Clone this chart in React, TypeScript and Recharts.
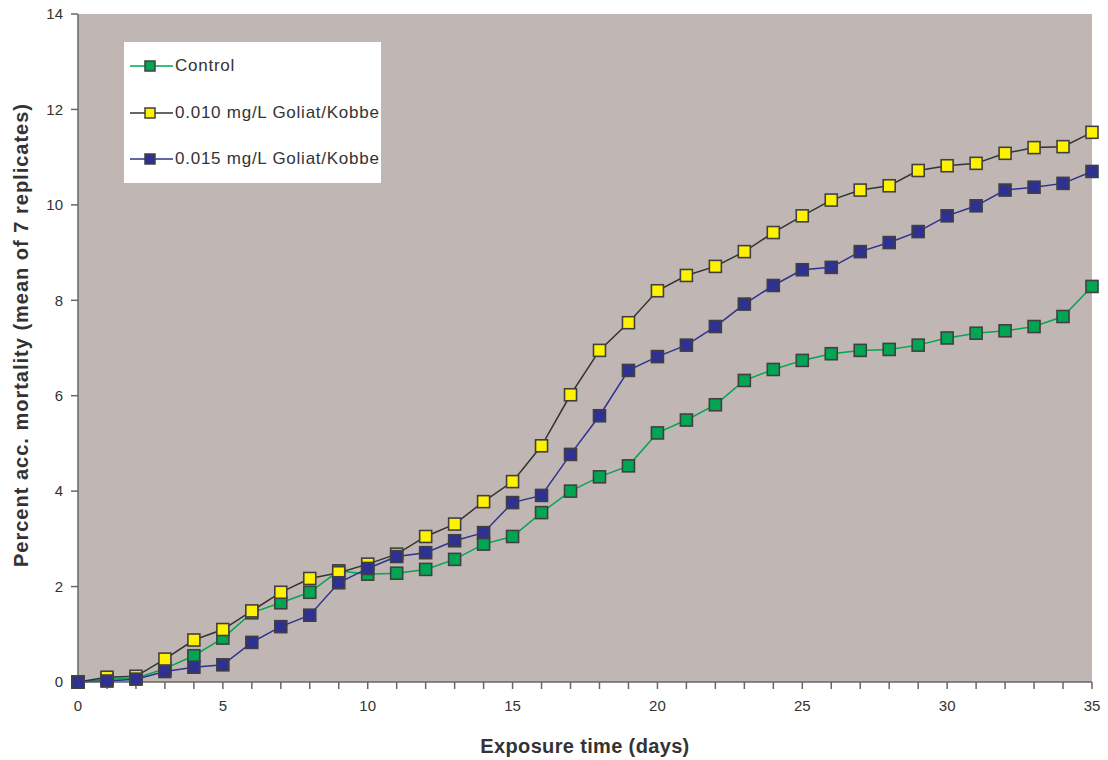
import React from 'react';
import { LineChart, Line, XAxis, YAxis, CartesianGrid, Legend } from 'recharts';

const days = Array.from({ length: 36 }, (_, i) => i);
const controlValues = [0, 0.06, 0.08, 0.28, 0.55, 0.92, 1.45, 1.66, 1.88, 2.33, 2.26, 2.28, 2.36, 2.57, 2.89, 3.05, 3.55, 4.0, 4.3, 4.53, 5.22, 5.49, 5.81, 6.32, 6.55, 6.74, 6.88, 6.95, 6.97, 7.06, 7.21, 7.31, 7.36, 7.45, 7.66, 8.29];
const low010Values = [0, 0.1, 0.12, 0.48, 0.88, 1.1, 1.49, 1.88, 2.17, 2.29, 2.47, 2.68, 3.05, 3.31, 3.78, 4.2, 4.95, 6.02, 6.95, 7.53, 8.2, 8.52, 8.71, 9.02, 9.42, 9.77, 10.1, 10.31, 10.4, 10.72, 10.82, 10.87, 11.08, 11.2, 11.22, 11.52];
const high015Values = [0, 0.02, 0.06, 0.22, 0.31, 0.36, 0.83, 1.16, 1.4, 2.08, 2.38, 2.63, 2.71, 2.96, 3.13, 3.76, 3.91, 4.77, 5.58, 6.53, 6.82, 7.06, 7.45, 7.92, 8.31, 8.64, 8.69, 9.02, 9.21, 9.44, 9.77, 9.98, 10.31, 10.37, 10.45, 10.7];
const yTicks = [0, 2, 4, 6, 8, 10, 12, 14];

const data = days.map((d, i) => ({
  day: d,
  control: controlValues[i],
  low: low010Values[i],
  high: high015Values[i],
}));

const seriesDefs = [
  { key: 'control', name: 'Control', line: '#00A651', fill: '#00A651' },
  { key: 'low', name: '0.010 mg/L Goliat/Kobbe', line: '#333333', fill: '#FFF200' },
  { key: 'high', name: '0.015 mg/L Goliat/Kobbe', line: '#2E3192', fill: '#2E3192' },
];

const FONT = 'Liberation Sans, Arial, sans-serif';

const squareDot = (fill: string) => (props: any) => {
  const { cx, cy, index } = props;
  if (cx == null || cy == null) return <g key={`n${index}`} />;
  const s = 12;
  return (
    <rect key={`d${index}`} x={cx - s / 2} y={cy - s / 2} width={s} height={s} fill={fill} stroke="#404040" strokeWidth={1.6} />
  );
};

const LegendContent = () => (
  <div style={{ background: '#fff', width: 257, height: 141, boxSizing: 'border-box', paddingTop: 1, fontFamily: FONT }}>
    {seriesDefs.map((s) => (
      <div key={s.key} style={{ display: 'flex', alignItems: 'center', height: 46.5 }}>
        <svg width={46} height={16} style={{ marginLeft: 5 }}>
          <line x1={1} x2={44} y1={8} y2={8} stroke={s.line} strokeWidth={1.5} />
          <rect x={16} y={3} width={10} height={10} fill={s.fill} stroke="#404040" strokeWidth={1.5} />
        </svg>
        <span style={{ fontSize: 17, letterSpacing: 0.75, color: '#333', marginLeft: 0 }}>{s.name}</span>
      </div>
    ))}
  </div>
);

const YLabel = (props: any) => (
  <text
    x={21}
    y={335}
    transform="rotate(-90 21 335)"
    textAnchor="middle"
    dominantBaseline="central"
    fontFamily={FONT}
    fontWeight="bold"
    fontSize={20}
    letterSpacing={1}
    fill="#333"
  >
    Percent acc. mortality (mean of 7 replicates)
  </text>
);

export default function App() {
  return (
    <div style={{ position: 'absolute', left: 0, top: 0, width: 1108, height: 760, background: '#fff' }}>
      <LineChart width={1108} height={760} data={data} margin={{ top: 14, right: 16, bottom: 0, left: 0 }}>
        <CartesianGrid horizontal={false} vertical={false} fill="#C0B7B5" stroke="none" />
        <XAxis
          dataKey="day"
          type="number"
          domain={[0, 35]}
          ticks={days}
          interval={0}
          tickFormatter={(v: number) => (v % 5 === 0 ? String(v) : '')}
          height={78}
          stroke="#666"
          strokeWidth={1.5}
          tickSize={7}
          tickMargin={11}
          tick={{ fill: '#333', fontSize: 15, fontFamily: FONT }}
          label={{ value: 'Exposure time (days)', position: 'insideBottom', offset: 7, fill: '#333', fontSize: 20, letterSpacing: 0.35, fontWeight: 'bold', fontFamily: FONT }}
        />
        <YAxis
          type="number"
          domain={[0, 14]}
          ticks={yTicks}
          interval={0}
          width={78}
          stroke="#666"
          strokeWidth={1.5}
          tickSize={7}
          tickMargin={8}
          tick={{ fill: '#333', fontSize: 15, fontFamily: FONT }}
          label={<YLabel />}
        />
        <Legend
          layout="vertical"
          align="center"
          verticalAlign="middle"
          content={<LegendContent />}
          wrapperStyle={{ left: 124, top: 42, width: 257, height: 141 }}
        />
        {seriesDefs.map((s) => (
          <Line
            key={s.key}
            type="linear"
            dataKey={s.key}
            name={s.name}
            stroke={s.line}
            strokeWidth={1.5}
            dot={squareDot(s.fill)}
            activeDot={false}
            isAnimationActive={false}
          />
        ))}
      </LineChart>
    </div>
  );
}
